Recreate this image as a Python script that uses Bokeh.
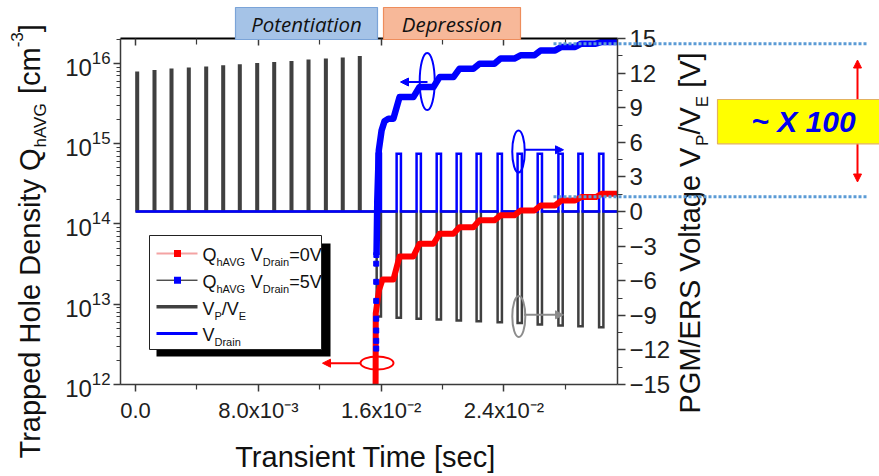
import math
from bokeh.plotting import figure
from bokeh.models import (Range1d, LinearAxis, LinearScale, FixedTicker, LogTicker, Label,
                          Arrow, NormalHead, BoxAnnotation)
from bokeh.embed import file_html
from bokeh.resources import INLINE

# ---------------- data ----------------
# potentiation (programming) pulses of V_P/V_E: times [ms], amplitudes [V]
pot_time_ms = [0.108, 1.235, 2.343, 3.470, 4.603, 5.711, 6.793, 7.926, 9.034,
               10.16, 11.27, 12.40, 13.50, 14.61]
pot_volt = [12.03, 12.16, 12.29, 12.37, 12.46, 12.57, 12.66, 12.77, 12.86,
            12.95, 13.07, 13.15, 13.24, 13.38]
# depression (erase) pulses of V_P/V_E and drain read pulses
dep_time_ms = [15.85, 17.15, 18.45, 19.76, 21.06, 22.36, 23.73, 25.03, 26.34,
               27.69, 28.99, 30.34]
dep_volt = [-9.10, -9.22, -9.30, -9.37, -9.45, -9.52, -9.60, -9.66, -9.80,
            -9.88, -9.95, -10.03]
drain_volt = [5.0, 5.0, 5.0, 5.0, 5.0, 5.0, 5.0, 5.0, 5.0, 5.0, 5.0, 5.0]
pot_width_ms = 0.10
dep_width_ms = 0.28

# Q_hAVG after each depression pulse [cm^-3]
q0_levels = [2.03e13, 3.94e13, 5.66e13, 7.55e13, 9.12e13, 1.11e14, 1.28e14,
             1.47e14, 1.70e14, 1.96e14, 2.16e14, 2.38e14]
q5_levels = [2.05e15, 3.80e15, 5.07e15, 6.75e15, 8.59e15, 9.91e15, 1.15e16,
             1.26e16, 1.45e16, 1.60e16, 1.76e16, 1.85e16]
# initial rise at the first depression pulse
q0_rise_ms = [15.64, 15.65, 15.86, 16.09]
q0_rise = [1.0e12, 7.7e12, 1.5e13, 2.03e13]
q5_rise_ms = [15.70, 15.75, 15.85, 16.03, 16.22, 16.48]
q5_rise = [4.1e13, 1.95e14, 8.3e14, 1.46e15, 1.90e15, 2.05e15]
q5_marker_ms = [15.68, 15.68, 15.68, 15.68, 15.68, 15.68, 15.68, 15.69]
q5_marker = [2.8e12, 3.5e12, 4.7e12, 6.6e12, 1.1e13, 1.9e13, 3.2e13, 4.1e13]

x_ticks = [0.0, 0.008, 0.016, 0.024]
x_tick_labels = ["0.0", "8.0x10\u207b\u00b3", "1.6x10\u207b\u00b2", "2.4x10\u207b\u00b2"]
x_minor = [0.004, 0.012, 0.020, 0.028]
v_ticks = [-15, -12, -9, -6, -3, 0, 3, 6, 9, 12, 15]
v_minor = [-13.5, -10.5, -7.5, -4.5, -1.5, 1.5, 4.5, 7.5, 10.5, 13.5]

# ---------------- geometry ----------------
W_, H_ = 879, 476
FL, FR, FT, FB = 120, 617, 38, 384          # plot box in pixels
T0, T1 = -0.00098, 0.0314                   # time shown in the plot box
Q0_LOG, Q1_LOG = 12.0, 16.31                # log10 Q shown in the plot box
V0, V1 = -15.0, 15.0


def tx(px):
    return T0 + (px - FL) / (FR - FL) * (T1 - T0)


def vy(py):
    return V1 - (py - FT) / (FB - FT) * (V1 - V0)


def qy(py):
    return 10 ** (Q0_LOG + (FB - py) / (FB - FT) * (Q1_LOG - Q0_LOG))


# the data frame spans the whole canvas; axes sit at fixed locations on the plot box
p = figure(width=W_, height=H_, x_range=Range1d(tx(0), tx(W_)),
           y_axis_type="log", y_range=Range1d(qy(H_), qy(0)),
           min_border=0, min_border_left=0, min_border_right=0,
           min_border_top=0, min_border_bottom=0,
           output_backend="svg", toolbar_location=None)
p.extra_y_ranges = {"volt": Range1d(vy(H_), vy(0))}
p.extra_y_scales = {"volt": LinearScale()}
p.xgrid.visible = False
p.ygrid.visible = False
p.outline_line_color = None
p.background_fill_color = "white"
p.border_fill_color = "white"

AX = "#3a3a3a"
FONT = "Liberation Sans"
QLO, QHI = 10 ** Q0_LOG, 10 ** Q1_LOG


def style_axis(ax, size):
    ax.axis_line_color = AX
    ax.axis_line_width = 1.5
    ax.major_tick_line_color = AX
    ax.minor_tick_line_color = AX
    ax.major_tick_line_width = 1.5
    ax.minor_tick_line_width = 1.2
    ax.major_label_text_font = FONT
    ax.major_label_text_font_size = f"{size}px"
    ax.major_label_text_color = "#202020"
    ax.axis_label = None


# bottom axis
xa = p.xaxis[0]
xa.ticker = FixedTicker(ticks=x_ticks, minor_ticks=x_minor)
xa.major_label_overrides = {t: s for t, s in zip(x_ticks, x_tick_labels)}
style_axis(xa, 22)
xa.fixed_location = QLO
xa.bounds = (T0, T1)
xa.major_tick_out = 7
xa.major_tick_in = 0
xa.minor_tick_out = 5
xa.minor_tick_in = 0
xa.major_label_standoff = 6

# left log axis
ya = p.yaxis[0]
ya.ticker = LogTicker(num_minor_ticks=10)
style_axis(ya, 24)
ya.fixed_location = T0
ya.bounds = (QLO, QHI)
ya.major_tick_out = 7
ya.major_tick_in = 0
ya.minor_tick_out = 4
ya.minor_tick_in = 0
ya.major_label_standoff = 3

# right voltage axis
ra = LinearAxis(y_range_name="volt",
                ticker=FixedTicker(ticks=v_ticks, minor_ticks=v_minor))
style_axis(ra, 24)
ra.fixed_location = T1
ra.bounds = (V0, V1)
ra.major_tick_out = 8
ra.major_tick_in = 0
ra.minor_tick_out = 5
ra.minor_tick_in = 0
ra.major_label_standoff = 4
p.add_layout(ra, "right")

# top mirror axis (ticks only)
ta = LinearAxis(ticker=FixedTicker(ticks=x_ticks, minor_ticks=x_minor))
style_axis(ta, 1)
ta.major_label_text_alpha = 0
ta.fixed_location = QHI
ta.bounds = (T0, T1)
ta.major_tick_in = 7
ta.major_tick_out = 0
ta.minor_tick_in = 6
ta.minor_tick_out = 0
ta.axis_line_color = "black"
ta.axis_line_width = 1.8
p.add_layout(ta, "above")


# ---------------- waveforms ----------------
def pulse_train(times_ms, amps, widths_ms, t_start, t_end):
    xs, ys = [t_start], [0.0]
    for t, a, w in zip(times_ms, amps, widths_ms):
        a0 = (t - w / 2) * 1e-3
        a1 = (t + w / 2) * 1e-3
        xs += [a0, a0, a1, a1]
        ys += [0.0, a, a, 0.0]
    xs.append(t_end)
    ys.append(0.0)
    return xs, ys


vpe_x, vpe_y = pulse_train(pot_time_ms + dep_time_ms, pot_volt + dep_volt,
                           [pot_width_ms] * len(pot_time_ms) + [dep_width_ms] * len(dep_time_ms),
                           0.0, T1)
drain_x, drain_y = pulse_train(dep_time_ms, drain_volt, [dep_width_ms] * len(dep_time_ms),
                               0.0, T1)


def q_steps(rise_ms, rise_q, levels):
    xs = [t * 1e-3 for t in rise_ms]
    ys = list(rise_q)
    for k in range(1, len(levels)):
        xs += [(dep_time_ms[k] - 0.35) * 1e-3, (dep_time_ms[k] + 0.05) * 1e-3]
        ys += [levels[k - 1], levels[k]]
    xs.append(T1)
    ys.append(levels[-1])
    return xs, ys


q0_x, q0_y = q_steps(q0_rise_ms, q0_rise, q0_levels)
q5_x, q5_y = q_steps(q5_rise_ms, q5_rise, q5_levels)

p.line(vpe_x, vpe_y, y_range_name="volt", line_color="#404040", line_width=2.5,
       line_join="miter")
p.line(drain_x, drain_y, y_range_name="volt", line_color="#0000ff", line_width=2.5,
       line_join="miter")
p.line(q5_x, q5_y, line_color="#0000ff", line_width=6.5, line_join="round")
p.line(q0_x, q0_y, line_color="#ff0000", line_width=6, line_join="round")
p.scatter([t * 1e-3 for t in q5_marker_ms], q5_marker, marker="square", size=5,
          color="#0000ff")

# ---------------- annotations ----------------
ARIAL = {' ': 278, '-': 333, '/': 278, '=': 584, '[': 278, ']': 278, '0': 556, '3': 556,
         '5': 556, 'A': 667, 'D': 722, 'E': 667, 'G': 778, 'H': 722, 'M': 833, 'P': 667,
         'Q': 778, 'R': 722, 'S': 667, 'T': 611, 'V': 667, 'a': 556, 'c': 500, 'd': 556,
         'e': 556, 'g': 556, 'h': 556, 'i': 222, 'l': 222, 'm': 833, 'n': 556, 'o': 556,
         'p': 556, 'r': 333, 's': 500, 't': 278, 'y': 500}
BASE_FIX = 0.28   # measured offset of the rendered alphabetic baseline, in em


def tw(s, size):
    return sum(ARIAL.get(c, 556) for c in s) / 1000.0 * size


def label(px, py, text, size, angle=0.0, align="left", baseline="alphabetic",
          color="#111111", style="normal", font=FONT):
    if baseline == "alphabetic":
        if angle == 0.0:
            py -= BASE_FIX * size
        else:
            px -= BASE_FIX * size
    p.add_layout(Label(x=tx(px), y=vy(py), y_range_name="volt", text=text, angle=angle,
                       text_font=font, text_font_size=f"{size}px", text_align=align,
                       text_baseline=baseline, text_color=color, text_font_style=style))


def rich(parts, px, py, size, sub_size, angle=0.0, sub_d=7, sup_d=-17):
    pos = 0.0
    for txt, kind in parts:
        fs = size if kind == "n" else sub_size
        off = 0 if kind == "n" else (sub_d if kind == "sub" else sup_d)
        lead = len(txt) - len(txt.lstrip(" "))
        pos += tw(" " * lead, fs)
        body = txt.lstrip(" ")
        if angle == 0.0:
            label(px + pos, py + off, body, fs)
        else:
            label(px + off, py - pos, body, fs, angle=angle)
        pos += tw(body, fs)


def box(l, t, r, b, fill, line=None, lw=1.0):
    p.add_layout(BoxAnnotation(left=tx(l), right=tx(r), top=vy(t), bottom=vy(b),
                               y_range_name="volt", fill_color=fill, fill_alpha=1.0,
                               line_color=line, line_alpha=1.0, line_width=lw))


def seg(x0, y0, x1, y1, color, lw=2.0, dash="solid", start=False, end=False, hs=8):
    head = lambda: NormalHead(size=hs, fill_color=color, line_color=color, line_width=1)
    p.add_layout(Arrow(x_start=tx(x0), y_start=vy(y0), x_end=tx(x1), y_end=vy(y1),
                       y_range_name="volt", line_color=color, line_width=lw,
                       line_dash=dash, start=head() if start else None,
                       end=head() if end else None))


ell_x, ell_y, ell_w, ell_h, ell_c = [], [], [], [], []


def ellipse(cx, cy, w, h, color):
    ell_x.append(tx(cx))
    ell_y.append(vy(cy))
    ell_w.append(w)
    ell_h.append(h)
    ell_c.append(color)


# axis titles
rich([("Trapped Hole Density Q", "n"), ("hAVG", "sub"), (" [cm", "n"), ("-3", "sup"),
      ("]", "n")], 38, 458, 29, 17, angle=math.pi / 2, sub_d=7, sup_d=-17)
rich([("PGM/ERS Voltage V", "n"), ("P", "sub"), ("/V", "n"), ("E", "sub"), (" [V]", "n")],
     698, 413, 29, 17, angle=math.pi / 2, sub_d=9, sup_d=-17)
label(365, 465, "Transient Time [sec]", 29, align="center")

# phase boxes on top
box(235, 7, 377, 39, "#a5c3e7", "#7ba4d8", 1.2)
label(306, 23, "Potentiation", 20.5, align="center", baseline="middle", style="italic",
      font="Open Sans")
box(383, 7, 520, 39, "#f7b899", "#ee8d5c", 1.2)
label(451.5, 23, "Depression", 20.5, align="center", baseline="middle", style="italic",
      font="Open Sans")

# dotted guide lines and x100 marker
seg(553, 43.3, 867, 43.3, "#5b9bd5", lw=3, dash="3 2")
seg(553, 196.3, 867, 196.3, "#5b9bd5", lw=3, dash="3 2")
seg(857, 120, 857, 59.5, "#ff0000", lw=2, end=True, hs=8)
seg(857, 120, 857, 181.5, "#ff0000", lw=2, end=True, hs=8)
box(717, 99, 895, 143.3, "#ffff00", "#e3b25e", 1.2)
label(803, 121, "~ X 100", 30, align="center", baseline="middle", color="#0000ee",
      style="bold italic")

# axis-pointer ellipses and arrows
ellipse(426.7, 81, 15, 57, "#0000ff")
seg(427, 81.5, 400, 81.5, "#0000ff", lw=2, end=True, hs=8)
ellipse(518, 151, 12.5, 42, "#0000ff")
seg(524, 149.3, 563, 149.3, "#0000ff", lw=2, end=True, hs=8)
ellipse(518.3, 316, 13, 41, "#8c8c8c")
seg(523.5, 314.3, 563, 314.3, "#8c8c8c", lw=2, end=True, hs=8)
ellipse(376.5, 362.5, 33, 13, "#ff0000")
seg(360, 362.7, 322, 362.7, "#ff0000", lw=2, end=True, hs=8)
p.ellipse(x=ell_x, y=ell_y, width=ell_w, height=ell_h, width_units="screen",
          height_units="screen", y_range_name="volt", fill_color=None,
          line_color=ell_c, line_width=2)

# legend
box(156, 243, 330, 356, "#000000", None)
box(149, 235, 321, 349, "#ffffff", "#222222", 1.0)
row_base = [260, 286.7, 313.3, 340]
seg(156, 253, 197, 253, "#f4a3a3", lw=2)
box(173.5, 249.5, 180.5, 256.5, "#ff0000", None)
seg(156, 279.7, 197, 279.7, "#000000", lw=1)
box(173.5, 276.2, 180.5, 283.2, "#0000ff", None)
seg(156, 306.3, 197, 306.3, "#404040", lw=3.5)
seg(156, 333, 197, 333, "#0000ff", lw=3)
rich([("Q", "n"), ("hAVG", "sub"), (" V", "n"), ("Drain", "sub"), ("=0V", "n")],
     202, row_base[0], 18, 11, sub_d=5)
rich([("Q", "n"), ("hAVG", "sub"), (" V", "n"), ("Drain", "sub"), ("=5V", "n")],
     202, row_base[1], 18, 11, sub_d=5)
rich([("V", "n"), ("P", "sub"), ("/V", "n"), ("E", "sub")], 202, row_base[2], 18, 11,
     sub_d=5)
rich([("V", "n"), ("Drain", "sub")], 202, row_base[3], 18, 11, sub_d=5)

open("out.html", "w").write(file_html(p, INLINE))
